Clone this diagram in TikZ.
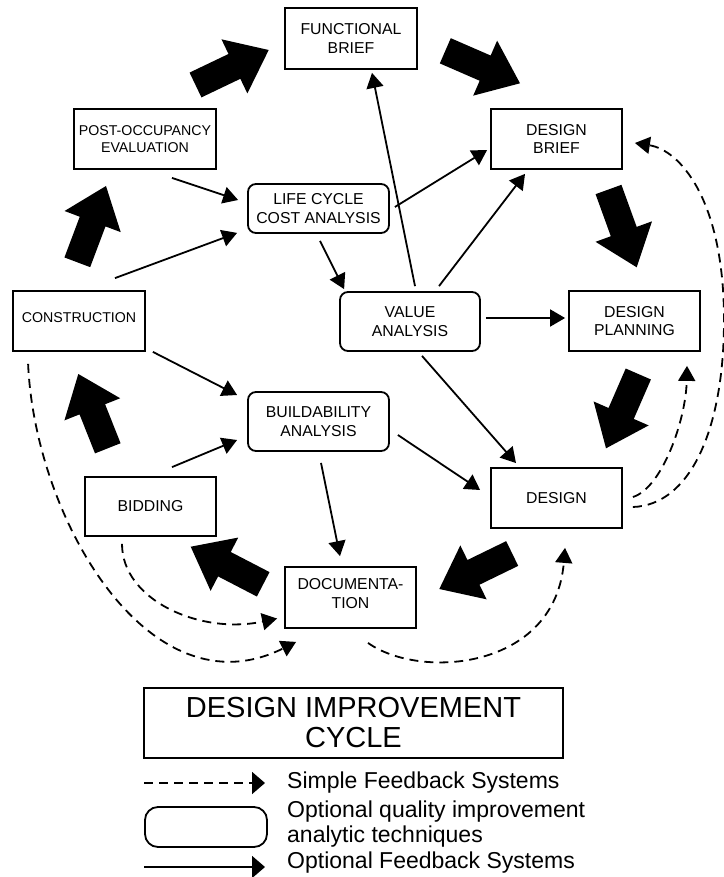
\documentclass[tikz,border=0pt]{standalone}
\usepackage{fontspec}
\setmainfont{Liberation Sans}
\usetikzlibrary{arrows.meta,calc}
\newcommand{\bigarr}[2]{%
  \coordinate (bah) at ($(#2)!38pt!(#1)$);
  \fill ($(#1)!13.75pt!90:(#2)$) -- ($(bah)!13.75pt!90:(#2)$) -- ($(bah)!30pt!90:(#2)$) -- (#2)
    -- ($(bah)!30pt!-90:(#2)$) -- ($(bah)!13.75pt!-90:(#2)$) -- ($(#1)!13.75pt!-90:(#2)$) -- cycle;}
\begin{document}
\begin{tikzpicture}[x=1pt,y=-1pt,
  box/.style={draw,line width=1.8pt,inner sep=0pt,align=center,
    font=\fontsize{15.8}{18.3}\selectfont},
  sbox/.style={box,font=\fontsize{14.2}{17.3}\selectfont},
  rbox/.style={box,rounded corners=8pt},
  thinarr/.style={line width=1.8pt,-{Triangle[length=15pt,width=17pt]}},
  fbarr/.style={thinarr,dash pattern=on 9pt off 6pt},
  legtext/.style={anchor=base west,inner sep=0pt,font=\fontsize{23}{26}\selectfont}]
\useasboundingbox (0,0) rectangle (723,877);

% stage nodes
\node[box,minimum width=132pt,minimum height=61pt] (fb) at (351,38.5) {FUNCTIONAL\\BRIEF};
\node[box,minimum width=131pt,minimum height=60pt] (db) at (556.5,139) {DESIGN\\BRIEF};
\node[sbox,minimum width=142pt,minimum height=60pt] (poe) at (145,139) {POST-OCCUPANCY\\EVALUATION};
\node[rbox,minimum width=141pt,minimum height=49pt] (lcca) at (318.5,208.5) {LIFE CYCLE\\COST ANALYSIS};
\node[sbox,minimum width=132pt,minimum height=60pt] (con) at (79,321) {CONSTRUCTION\rule[-6pt]{0pt}{0pt}};
\node[rbox,minimum width=140pt,minimum height=59pt] (va) at (410,321.5) {VALUE\\ANALYSIS};
\node[box,minimum width=131pt,minimum height=60pt] (dp) at (634.5,321) {DESIGN\\PLANNING};
\node[rbox,minimum width=141pt,minimum height=59pt] (ba) at (318.5,421.5) {BUILDABILITY\\ANALYSIS};
\node[box,minimum width=131pt,minimum height=59pt] (bid) at (150.5,506.5) {BIDDING};
\node[box,minimum width=131pt,minimum height=60pt] (des) at (556.5,498) {DESIGN};
\node[box,minimum width=131pt,minimum height=61pt] (doc) at (350.5,597.5) {DOCUMENTA-\\TION\rule[-8pt]{0pt}{0pt}};

% big cycle arrows
\coordinate (b1s) at (195.5,85);   \coordinate (b1e) at (268.7,50);
\coordinate (b2s) at (445.3,50.8); \coordinate (b2e) at (520,83.3);
\coordinate (b3s) at (608.5,189.5);\coordinate (b3e) at (636.7,267.3);
\coordinate (b4s) at (638.3,374);  \coordinate (b4e) at (606,448.3);
\coordinate (b5s) at (512.2,553.5);\coordinate (b5e) at (439.3,589);
\coordinate (b6s) at (263.2,584.3);\coordinate (b6e) at (190.7,546.7);
\coordinate (b7s) at (107.8,448.3);\coordinate (b7e) at (78.3,374);
\coordinate (b8s) at (77.3,262.3); \coordinate (b8e) at (106,186);
\bigarr{b1s}{b1e}
\bigarr{b2s}{b2e}
\bigarr{b3s}{b3e}
\bigarr{b4s}{b4e}
\bigarr{b5s}{b5e}
\bigarr{b6s}{b6e}
\bigarr{b7s}{b7e}
\bigarr{b8s}{b8e}

% optional feedback (solid) arrows
\draw[thinarr] ($(poe.south)+(27,8)$) -- ($(lcca.west)+(-9,-8.5)$);
\draw[thinarr] ($(con.north)+(36,-12)$) -- ($(lcca.south west)+(-10,-1)$);
\draw[thinarr] ($(lcca.south)+(1.5,7)$) -- ($(va.north west)+(5,-2)$);
\draw[thinarr] ($(va.north)+(5,-5)$) -- ($(fb.south)+(21,3)$);
\draw[thinarr] ($(lcca.east)+(5,-1.5)$) -- ($(db.west)+(-3,11)$);
\draw[thinarr] ($(va.north)+(29,-5)$) -- ($(db.south)+(-31.5,4)$);
\draw[thinarr] ($(va.east)+(5,-3.5)$) -- ($(dp.west)+(-3,-3)$);
\draw[thinarr] ($(va.south)+(12,4)$) -- ($(des.north)+(-40.5,-4)$);
\draw[thinarr] ($(ba.east)+(8,13.5)$) -- ($(des.west)+(-10,-8)$);
\draw[thinarr] ($(con.south east)+(7,0)$) -- ($(ba.west)+(-10,-26.5)$);
\draw[thinarr] ($(bid.north)+(21.5,-9)$) -- ($(ba.west)+(-10,18.5)$);
\draw[thinarr] ($(ba.south)+(2.5,11)$) -- ($(doc.north)+(-10.5,-10)$);

% simple feedback (dashed) arrows
\draw[fbarr] ($(des.east)+(10,-1)$) .. controls (662,488) and (686,420) .. ($(dp.south)+(52.5,14)$);
\draw[fbarr] ($(des.east)+(10,9)$) .. controls (690,505) and (724,430) .. (724,320)
   .. controls (724,200) and (680,150) .. ($(db.east)+(12,4)$);
\draw[fbarr] ($(doc.south)+(17.5,14)$) .. controls (420,680) and (555,670) .. ($(des.south)+(8.5,19)$);
\draw[fbarr] ($(bid.south)+(-28.5,7)$) .. controls (122,600) and (200,635) .. ($(doc.west)+(-7,21)$);
\draw[fbarr] ($(con.south west)+(16,12)$) .. controls (35,520) and (150,715) .. ($(doc.south west)+(12,13)$);

% title
\node[draw,line width=1.6pt,minimum width=419pt,minimum height=70pt,inner sep=0pt,align=center,
  font=\fontsize{29}{30}\selectfont] (title) at (353.5,723) {DESIGN IMPROVEMENT\\CYCLE};

% legend
\coordinate (l1a) at (144,783); \coordinate (l1b) at (265,783);
\coordinate (l3a) at (144,867); \coordinate (l3b) at (265,867);
\draw[line width=1.8pt,dash pattern=on 9pt off 6pt,-{Triangle[length=13pt,width=22pt]}] (l1a) -- (l1b);
\node[draw,line width=1.8pt,rounded corners=13pt,minimum width=122pt,minimum height=40pt,inner sep=0pt] (lbox) at (206,827) {};
\draw[line width=1.8pt,-{Triangle[length=13pt,width=22pt]}] (l3a) -- (l3b);
\node[legtext] (t1) at (287,788) {Simple Feedback Systems};
\node[legtext] (t2) at (287,817) {Optional quality improvement};
\node[legtext] (t3) at (287,842) {analytic techniques};
\node[legtext] (t4) at (287,868) {Optional Feedback Systems};
\end{tikzpicture}
\end{document}
